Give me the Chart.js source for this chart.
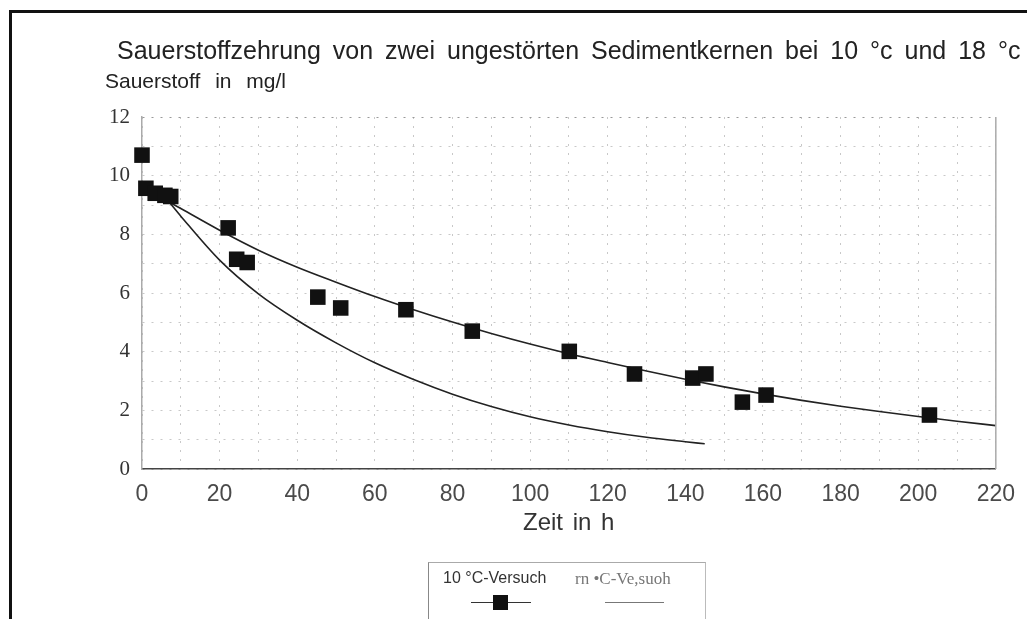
<!DOCTYPE html>
<html>
<head>
<meta charset="utf-8">
<script src="https://cdn.jsdelivr.net/npm/chart.js@4"></script>
<style>
  html, body { margin: 0; padding: 0; background: #fff; }
  body { width: 1027px; height: 619px; position: relative; overflow: hidden; font-family: 'Liberation Sans', Arial, sans-serif; }
  #frame { position: absolute; left: 9px; top: 10px; width: 1030px; height: 620px; border-top: 3px solid #111; border-left: 3px solid #111; }
  #wrap { position: absolute; left: 0; top: 0; width: 1027px; height: 619px; }
  .txt { position: absolute; white-space: nowrap; color: #222; }
  #title { left: 117px; top: 36px; font-size: 25px; word-spacing: 5px; }
  #ylab { left: 105px; top: 69px; font-size: 21px; word-spacing: 9px; }
  #xlab { left: 523px; top: 508px; font-size: 24px; word-spacing: 3px; color: #333; }
  #legend { position: absolute; left: 428px; top: 562px; width: 276px; height: 80px; border: 1px solid #888; border-top-color: #aaa; border-right-color: #bbb; }
  .lg-text { position: absolute; top: 6px; font-size: 16px; white-space: nowrap; }
  .lg-line { position: absolute; top: 39px; height: 1px; }
  .lg-box { position: absolute; top: 32px; width: 15px; height: 15px; background: #111; }
</style>
</head>
<body>
<div id="frame"></div>
<div id="wrap"><canvas id="chart" width="1027" height="619"></canvas></div>
<div class="txt" id="title">Sauerstoffzehrung von zwei ungestörten Sedimentkernen bei 10 °c und 18 °c</div>
<div class="txt" id="ylab">Sauerstoff in mg/l</div>
<div class="txt" id="xlab">Zeit in h</div>
<div id="legend">
  <div class="lg-text" style="left:14px; color:#333;">10 °C-Versuch</div>
  <div class="lg-text" style="left:146px; color:#777; font-family:'Liberation Serif', serif; font-size:17px;">rn •C-Ve,suoh</div>
  <div class="lg-line" style="left:42px; width:60px; background:#333;"></div>
  <div class="lg-box" style="left:64px;"></div>
  <div class="lg-line" style="left:176px; width:59px; background:#777;"></div>
</div>
<script>
// measured points, 10 °C run
const obsTime = [0, 1, 3.4, 5.9, 7.4, 22.2, 24.4, 27.1, 45.3, 51.2, 68.0, 85.1, 110.1, 126.9, 141.9, 145.3, 154.7, 160.8, 202.9];
const obsO2 = [10.70, 9.57, 9.40, 9.33, 9.29, 8.22, 7.15, 7.04, 5.86, 5.49, 5.43, 4.70, 4.01, 3.24, 3.10, 3.24, 2.28, 2.52, 1.84];

// fitted curve 10 °C
const fit10Time = [7, 10, 20, 30, 40, 50, 60, 70, 80, 90, 100, 110, 120, 130, 140, 150, 160, 170, 180, 190, 200, 210, 220];
const fit10O2 = [9.1, 8.88, 8.14, 7.46, 6.88, 6.37, 5.88, 5.43, 5.01, 4.62, 4.26, 3.93, 3.63, 3.34, 3.06, 2.80, 2.56, 2.34, 2.14, 1.96, 1.79, 1.63, 1.48];

// fitted curve 18 °C
const fit18Time = [7, 10, 20, 30, 40, 50, 60, 70, 80, 90, 100, 110, 120, 130, 140, 145];
const fit18O2 = [9.1, 8.62, 7.12, 5.97, 5.07, 4.3, 3.62, 3.05, 2.55, 2.13, 1.78, 1.5, 1.27, 1.08, 0.93, 0.86];

const xTickLabels = [0, 20, 40, 60, 80, 100, 120, 140, 160, 180, 200, 220];
const yTickLabels = [0, 2, 4, 6, 8, 10, 12];

function toXY(xs, ys) {
  return xs.map((x, i) => ({ x: x, y: ys[i] }));
}

// right edge of the plot frame
const frameRight = {
  id: 'frameRight',
  afterDraw(chart) {
    const a = chart.chartArea, ctx = chart.ctx;
    ctx.save();
    ctx.strokeStyle = '#aaa';
    ctx.lineWidth = 1.5;
    ctx.beginPath();
    ctx.moveTo(a.right, a.top);
    ctx.lineTo(a.right, a.bottom);
    ctx.stroke();
    ctx.restore();
  }
};

const ctx = document.getElementById('chart').getContext('2d');
new Chart(ctx, {
  type: 'scatter',
  data: {
    datasets: [
      { label: '10 °C-Versuch', data: toXY(obsTime, obsO2), showLine: false, clip: false,
        pointStyle: 'rect', pointRadius: 11, backgroundColor: '#111', borderColor: '#111', borderWidth: 0 },
      { label: '10 °C fit', data: toXY(fit10Time, fit10O2), showLine: true, pointRadius: 0,
        borderColor: '#222', borderWidth: 1.6, cubicInterpolationMode: 'monotone' },
      { label: '18 °C fit', data: toXY(fit18Time, fit18O2), showLine: true, pointRadius: 0,
        borderColor: '#222', borderWidth: 1.6, cubicInterpolationMode: 'monotone' }
    ]
  },
  options: {
    responsive: false,
    animation: false,
    layout: { padding: { left: 0, top: 117, right: 31, bottom: 110 } },
    plugins: { legend: { display: false }, tooltip: { enabled: false } },
    scales: {
      x: {
        type: 'linear', min: 0, max: 220,
        afterFit: (s) => { s.height = 40; },
        grid: { color: '#c8c8c8', lineWidth: 1, drawTicks: false },
        border: { display: true, color: '#444', width: 1.5, dash: [2, 7] },
        ticks: {
          stepSize: 10, autoSkip: false, maxRotation: 0, padding: 12,
          color: '#4a4a4a',
          font: { family: "'Liberation Sans', Arial, sans-serif", size: 23 },
          callback: (v) => xTickLabels.includes(v) ? String(v) : ''
        }
      },
      y: {
        min: 0, max: 12,
        afterFit: (s) => { s.width = 142; },
        grid: { color: (c) => c.tick && c.tick.value === 12 ? '#999' : '#c8c8c8', lineWidth: 1, drawTicks: false },
        border: { display: true, color: '#aaa', width: 1.5, dash: [2, 7] },
        ticks: {
          stepSize: 1, autoSkip: false, padding: 12,
          color: '#333',
          font: { family: "'Liberation Serif', 'Times New Roman', serif", size: 21 },
          callback: (v) => yTickLabels.includes(v) ? String(v) : ''
        }
      }
    }
  },
  plugins: [frameRight]
});
</script>
</body>
</html>
